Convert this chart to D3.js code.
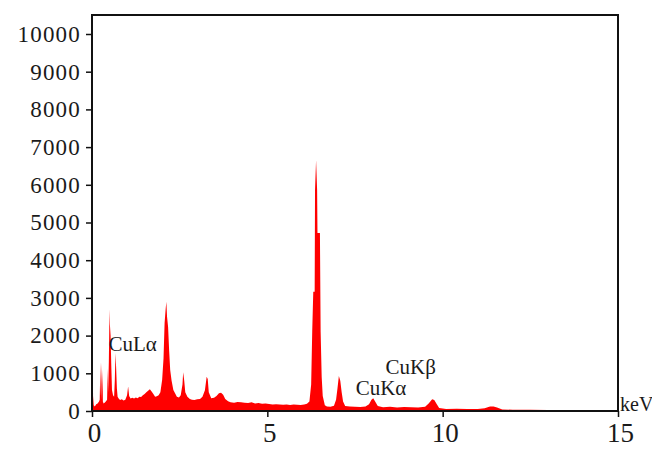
<!DOCTYPE html>
<html>
<head>
<meta charset="utf-8">
<script src="https://cdn.jsdelivr.net/npm/d3@7"></script>
<style>
  html, body { margin: 0; padding: 0; background: #fff; }
  svg { display: block; }
  text { font-family: "Liberation Serif", "Times New Roman", serif; fill: #1a1a1a; }
</style>
</head>
<body>
<svg id="chart" width="652" height="449"></svg>
<script>
// Energy (keV) of each sampled channel
const energy = [
  0.00,0.02,0.03,0.05,0.08,0.12,0.16,0.20,0.22,0.24,0.25,0.27,0.28,0.30,0.31,0.33,0.36,0.40,0.43,0.45,
  0.46,0.48,0.50,0.51,0.53,0.55,0.57,0.60,0.63,0.65,0.67,0.69,0.71,0.73,0.76,0.80,0.85,0.90,0.95,1.00,
  1.03,1.06,1.10,1.15,1.20,1.25,1.30,1.35,1.40,1.45,1.50,1.55,1.60,1.65,1.70,1.75,1.80,1.85,1.90,1.95,
  2.00,2.04,2.07,2.10,2.12,2.14,2.17,2.20,2.23,2.27,2.32,2.38,2.42,2.48,2.53,2.58,2.60,2.63,2.66,2.72,
  2.79,2.85,2.92,3.00,3.08,3.15,3.22,3.27,3.30,3.33,3.40,3.48,3.55,3.62,3.68,3.74,3.80,3.88,3.95,4.05,
  4.15,4.25,4.35,4.45,4.55,4.65,4.75,4.85,4.95,5.05,5.15,5.25,5.35,5.45,5.55,5.65,5.75,5.85,5.95,6.05,
  6.13,6.20,6.25,6.28,6.31,6.35,6.36,6.39,6.42,6.43,6.50,6.52,6.55,6.58,6.64,6.70,6.80,6.90,6.96,7.00,
  7.04,7.08,7.12,7.16,7.22,7.35,7.50,7.65,7.80,7.90,7.97,8.02,8.07,8.15,8.30,8.50,8.70,8.90,9.10,9.30,
  9.50,9.60,9.70,9.76,9.82,9.90,10.10,10.40,10.70,11.00,11.20,11.35,11.45,11.55,11.70,12.00,12.50,13.00,13.50,14.00,
  14.50,15.00
];
// Counts
const counts = [
  3000,3000,400,150,120,180,200,250,300,1300,400,1280,300,1100,250,200,220,260,300,1130,
  500,1300,2700,2300,2000,1200,560,420,380,800,1540,1100,600,380,330,290,310,280,300,420,
  650,400,330,350,330,360,340,380,370,420,450,500,540,580,520,450,380,390,420,500,
  820,1400,2330,2700,2900,2500,2230,1600,1090,800,560,450,380,360,420,700,1030,800,500,380,
  320,300,290,310,320,380,550,910,850,500,340,350,400,470,485,430,320,260,230,220,
  240,230,220,210,230,200,210,190,200,185,170,180,170,165,175,160,170,165,160,170,
  190,250,700,2100,3160,3160,5850,6650,5850,4720,4720,2100,900,400,150,120,110,140,300,600,
  930,800,500,250,130,120,110,105,120,180,300,340,260,130,100,110,95,105,100,95,
  110,200,310,290,200,80,55,60,50,55,70,120,120,90,40,35,30,25,20,15,
  10,5
];
const yTicks = [0,1000,2000,3000,4000,5000,6000,7000,8000,9000,10000];
const xTicks = [0,5,10,15];
const annLabels = ["CuL\u03B1","CuK\u03B1","CuK\u03B2"];
const annEnergy = [0.47, 7.52, 8.37];
const annCounts = [1600, 430, 980];

const data = energy.map((e,i)=>({e, c: counts[i]}));

const svg = d3.select("#chart");
const L = 92, R = 618, T = 15, B = 411;
const x = d3.scaleLinear().domain([0,15]).range([L,R]);
const y = d3.scaleLinear().domain([0,10000]).range([B,34]);

// spectrum
svg.append("path")
  .datum(data)
  .attr("fill","#ff0000")
  .attr("d", d3.area().x(d=>x(d.e)).y0(B).y1(d=>y(d.c)));

// frame
svg.append("rect").attr("x",L).attr("y",T).attr("width",R-L).attr("height",B-T)
  .attr("fill","none").attr("stroke","#111").attr("stroke-width",2);

// y axis
const yAxis = svg.append("g").attr("transform",`translate(${L},0)`)
  .call(d3.axisLeft(y).tickValues(yTicks).tickSize(6).tickPadding(5).tickFormat(d3.format("d")));
yAxis.select(".domain").remove();
yAxis.selectAll("line").attr("stroke","#111").attr("stroke-width",1.5);
yAxis.selectAll("text").attr("font-size",23).attr("fill","#1a1a1a")
  .style("font-family","Liberation Serif").style("letter-spacing","1.2px");

// x axis
const xAxis = svg.append("g").attr("transform",`translate(0,${B})`)
  .call(d3.axisBottom(x).tickValues(xTicks).tickSize(6).tickPadding(6).tickFormat(d3.format("d")));
xAxis.select(".domain").remove();
xAxis.selectAll("line").attr("stroke","#111").attr("stroke-width",1.5);
xAxis.selectAll("text").attr("font-size",27).attr("fill","#1a1a1a")
  .style("font-family","Liberation Serif").attr("dx",2);

// unit label
svg.append("text").attr("x",R+2).attr("y",B).attr("font-size",20).text("keV");

// annotations
annLabels.forEach((t,i)=>{
  svg.append("text").attr("x",x(annEnergy[i])).attr("y",y(annCounts[i]))
    .attr("font-size",21).text(t);
});
</script>
</body>
</html>
